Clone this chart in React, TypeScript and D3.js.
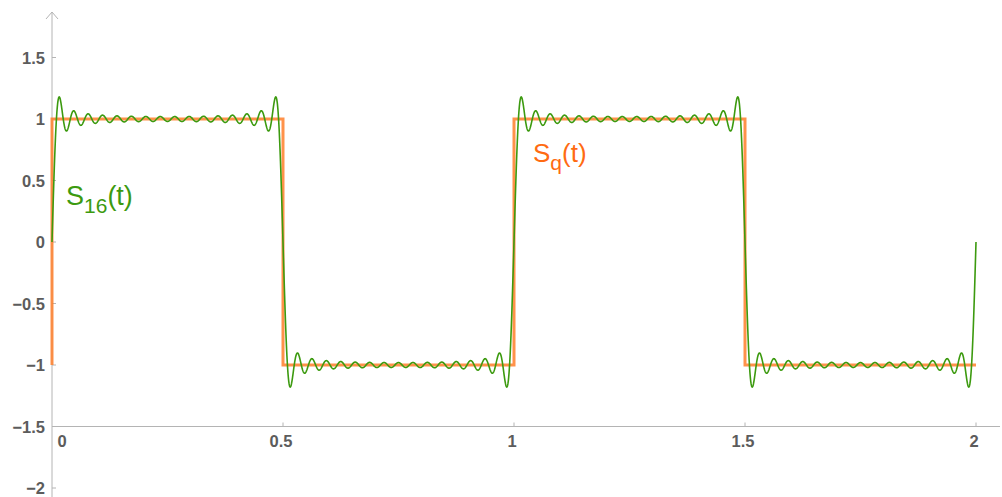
import React from "react";
import * as d3 from "d3";

// odd harmonics n and their amplitudes 4/(pi n), first 16 terms
const harmonics = [1, 3, 5, 7, 9, 11, 13, 15, 17, 19, 21, 23, 25, 27, 29, 31];
const amplitudes = [
  1.27324, 0.42441, 0.25465, 0.18189, 0.14147, 0.11575, 0.09794, 0.08488,
  0.0749, 0.06701, 0.06063, 0.05536, 0.05093, 0.04716, 0.0439, 0.04107,
];

// square wave corners
const squareT = [0, 0, 0.5, 0.5, 1, 1, 1.5, 1.5, 2];
const squareV = [-1, 1, 1, -1, -1, 1, 1, -1, -1];

const xTicks = [0, 0.5, 1, 1.5, 2];
const xTickLabels = ["0", "0.5", "1", "1.5", "2"];
const yTicks = [1.5, 1, 0.5, 0, -0.5, -1, -1.5, -2];
const yTickLabels = ["1.5", "1", "0.5", "0", "\u22120.5", "\u22121", "\u22121.5", "\u22122"];

const width = 1002;
const height = 497;

export default function App() {
  const x = d3.scaleLinear().domain([0, 2]).range([52, 976]);
  const y = d3.scaleLinear().domain([-2, 1.5]).range([488, 57.5]);

  const samples = d3.range(0, 2.0001, 0.0005);
  const partial = samples.map((t) => {
    let s = 0;
    for (let i = 0; i < harmonics.length; i++) {
      s += amplitudes[i] * Math.sin(2 * Math.PI * harmonics[i] * t);
    }
    return [t, s] as [number, number];
  });

  const line = d3
    .line<[number, number]>()
    .x((d) => x(d[0]))
    .y((d) => y(d[1]));

  const square = squareT.map((t, i) => [t, squareV[i]] as [number, number]);

  const axisColor = "#b4b4b4";
  const tickFont = {
    fontFamily: "Liberation Sans, Arial, sans-serif",
    fontSize: 16.5,
    fontWeight: "bold" as const,
    fill: "#5c5c5c",
  };
  const x0 = x(0);
  const yAxisAt = y(-1.5);

  return (
    <svg
      width={width}
      height={height}
      style={{ position: "absolute", left: 0, top: 0 }}
    >
      {/* axes */}
      <line x1={x0} x2={x0} y1={12} y2={height} stroke={axisColor} strokeWidth={1} />
      <path
        d={`M${x0 - 6},${19} L${x0},${12} L${x0 + 6},${19}`}
        fill="none"
        stroke={axisColor}
        strokeWidth={1}
      />
      <line x1={x0} x2={1000} y1={yAxisAt} y2={yAxisAt} stroke={axisColor} strokeWidth={1} />

      {yTicks.map((v, i) => (
        <g key={"y" + i}>
          <line x1={x0} x2={x0 + 4} y1={y(v)} y2={y(v)} stroke={axisColor} />
          <text x={45} y={y(v) + 6} textAnchor="end" {...tickFont}>
            {yTickLabels[i]}
          </text>
        </g>
      ))}
      {xTicks.map((v, i) => (
        <g key={"x" + i}>
          {i > 0 && (
            <line x1={x(v)} x2={x(v)} y1={yAxisAt} y2={yAxisAt - 4} stroke={axisColor} />
          )}
          <text
            x={i === 0 ? x(v) + 10 : x(v) - 2}
            y={yAxisAt + 20}
            textAnchor="middle"
            {...tickFont}
          >
            {xTickLabels[i]}
          </text>
        </g>
      ))}

      {/* square wave */}
      <path
        d={line(square) || ""}
        fill="none"
        stroke="#ff7f2a"
        strokeOpacity={0.85}
        strokeWidth={3}
      />
      {/* partial Fourier sum */}
      <path
        d={line(partial) || ""}
        fill="none"
        stroke="#3c9a0f"
        strokeWidth={1.6}
      />

      <text
        x={66}
        y={205}
        fill="#3c9a0f"
        fontFamily="Liberation Sans, Arial, sans-serif"
        fontSize={27}
      >
        S
        <tspan fontSize={21} dy={8}>16</tspan>
        <tspan dy={-8}>(t)</tspan>
      </text>
      <text
        x={533}
        y={162}
        fill="#ff6b12"
        fontFamily="Liberation Sans, Arial, sans-serif"
        fontSize={26}
      >
        S
        <tspan fontSize={21} dy={8}>q</tspan>
        <tspan dy={-8}>(t)</tspan>
      </text>
    </svg>
  );
}
